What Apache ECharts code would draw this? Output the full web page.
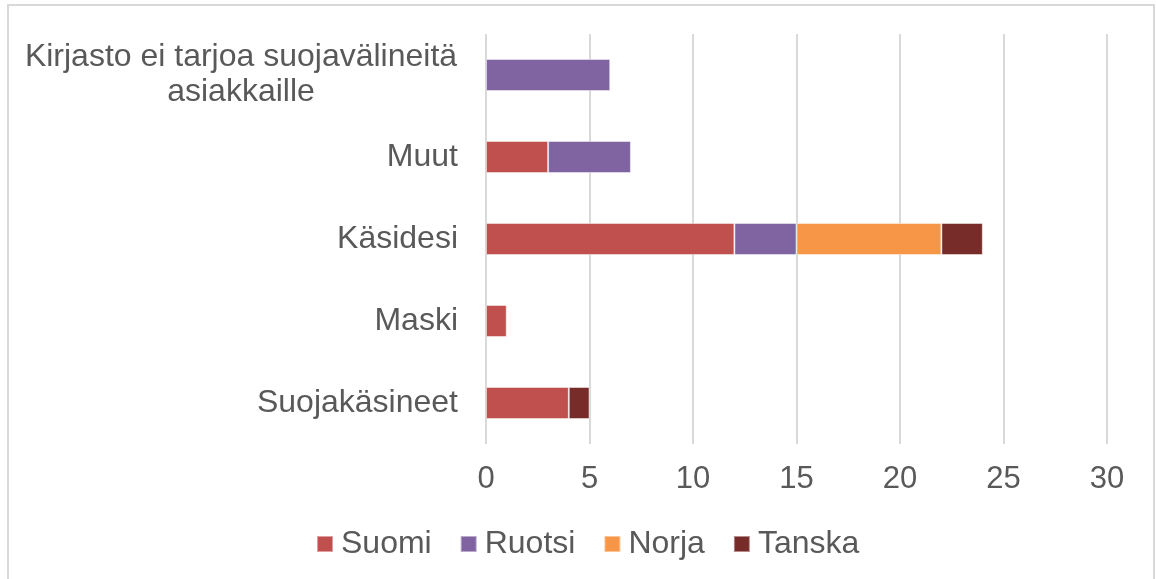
<!DOCTYPE html>
<html>
<head>
<meta charset="utf-8">
<style>
	html, body { margin: 0; padding: 0; background: #fff; }
	#chart { width: 1156px; height: 579px; }
</style>
<script src="https://cdn.jsdelivr.net/npm/echarts@6/dist/echarts.min.js"></script>
</head>
<body>
<div id="chart"></div>
<script>
	// kategoriat ylhäältä alas
	const categories = ['Kirjasto ei tarjoa suojavälineitä\nasiakkaille', 'Muut', 'Käsidesi', 'Maski', 'Suojakäsineet']
	const suomi = [0, 3, 12, 1, 4]
	const ruotsi = [6, 4, 3, 0, 0]
	const norja = [0, 0, 7, 0, 0]
	const tanska = [0, 0, 2, 0, 1]
	const xTicks = [0, 30, 5]

	const textColor = '#595959'
	const font = "'Liberation Sans', Arial, sans-serif"

	const mkSeries = (name, data, color) => ({
		name: name,
		type: 'bar',
		stack: 'total',
		barWidth: 32,
		data: data.map(v => (v === 0 ? null : v)),
		itemStyle: {
			color: color,
			borderColor: 'rgba(255,255,255,0.45)',
			borderWidth: 1
		}
	})

	const chart = echarts.init(document.getElementById('chart'))
	const option = {
		animation: false,
		textStyle: { fontFamily: font },
		graphic: [
			{
				type: 'rect',
				shape: { x: 8, y: 5, width: 1146, height: 620 },
				style: { fill: 'none', stroke: '#d9d9d9', lineWidth: 2 },
				silent: true
			}
		],
		grid: {
			left: 486,
			right: 49,
			top: 34,
			height: 410
		},
		xAxis: {
			type: 'value',
			min: xTicks[0],
			max: xTicks[1],
			interval: xTicks[2],
			axisLine: { show: false },
			axisTick: { show: false },
			axisLabel: {
				color: textColor,
				fontSize: 31,
				fontFamily: font,
				margin: 20
			},
			splitLine: {
				lineStyle: { color: '#d9d9d9', width: 2 }
			}
		},
		yAxis: {
			type: 'category',
			inverse: true,
			data: categories,
			axisLine: { show: false },
			axisTick: { show: false },
			axisLabel: {
				color: textColor,
				fontSize: 32,
				fontFamily: font,
				margin: 28,
				lineHeight: 35,
				formatter: (v) => {
					if (v.indexOf('\n') < 0) return v
					return v.split('\n').map(s => '{c|' + s + '}').join('\n')
				},
				rich: {
					c: {
						width: 434,
						align: 'center',
						color: textColor,
						fontSize: 32,
						fontFamily: font,
						lineHeight: 35
					}
				}
			}
		},
		legend: {
			left: 311,
			top: 523,
			itemWidth: 16,
			itemHeight: 16,
			itemGap: 28,
			icon: 'rect',
			textStyle: {
				color: textColor,
				fontSize: 32,
				fontFamily: font,
				padding: [0, 0, 0, 3]
			},
			data: ['Suomi', 'Ruotsi', 'Norja', 'Tanska']
		},
		series: [
			mkSeries('Suomi', suomi, '#C0504D'),
			mkSeries('Ruotsi', ruotsi, '#8064A2'),
			mkSeries('Norja', norja, '#F79646'),
			mkSeries('Tanska', tanska, '#772C2A')
		]
	}
	chart.setOption(option)
</script>
</body>
</html>
